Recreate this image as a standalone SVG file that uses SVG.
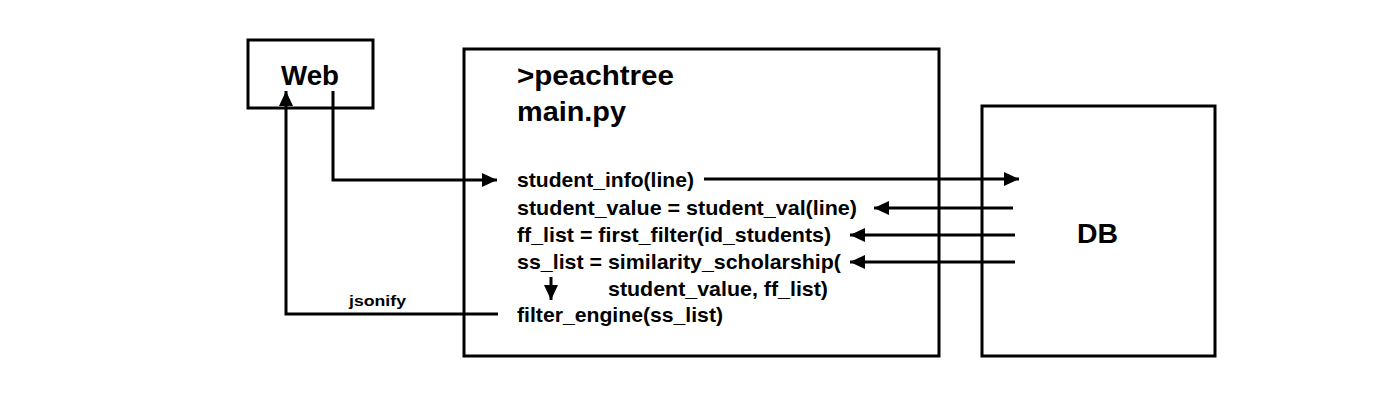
<svg xmlns="http://www.w3.org/2000/svg" width="1400" height="420" viewBox="0 0 1400 420">
<style>
.box{fill:#fff;stroke:#000;stroke-width:3}
.t{font-family:"Liberation Sans",Arial,sans-serif;font-weight:bold;fill:#000}
.code{font-size:21px}
.big{font-size:27px}
.c{fill:none;stroke:#000;stroke-width:3}
</style>
<defs>
<marker id="ah" markerWidth="15" markerHeight="14" refX="15" refY="7" orient="auto" markerUnits="userSpaceOnUse">
<path d="M0,0 L15,7 L0,14 Z" fill="#000"/>
</marker>
</defs>
<rect width="1400" height="420" fill="#fff"/>
<g id="main">
<rect class="box" x="464" y="49" width="475" height="307"/>
<text class="t big" x="517" y="85" textLength="157" lengthAdjust="spacingAndGlyphs">&gt;peachtree</text>
<text class="t big" x="517" y="121" textLength="109" lengthAdjust="spacingAndGlyphs">main.py</text>
<text class="t code" x="517" y="187" textLength="177" lengthAdjust="spacingAndGlyphs">student_info(line)</text>
<text class="t code" x="517" y="215" textLength="340" lengthAdjust="spacingAndGlyphs">student_value = student_val(line)</text>
<text class="t code" x="517" y="242" textLength="314" lengthAdjust="spacingAndGlyphs">ff_list = first_filter(id_students)</text>
<text class="t code" x="517" y="269" textLength="324" lengthAdjust="spacingAndGlyphs">ss_list = similarity_scholarship(</text>
<text class="t code" x="608" y="296" textLength="220" lengthAdjust="spacingAndGlyphs">student_value, ff_list)</text>
<text class="t code" x="517" y="322" textLength="206" lengthAdjust="spacingAndGlyphs">filter_engine(ss_list)</text>
</g>
<g id="web">
<rect class="box" x="248" y="40" width="125" height="68"/>
<text class="t" x="310" y="85" font-size="27" text-anchor="middle" textLength="58" lengthAdjust="spacingAndGlyphs">Web</text>
</g>
<g id="db">
<rect class="box" x="982" y="106" width="233" height="250"/>
<text class="t" x="1077" y="243" font-size="27" textLength="41" lengthAdjust="spacingAndGlyphs">DB</text>
</g>
<g id="connectors">
<path class="c" d="M333,91 V180 H497" marker-end="url(#ah)"/>
<path class="c" d="M704,179 H1019" marker-end="url(#ah)"/>
<path class="c" d="M1013,208 H874" marker-end="url(#ah)"/>
<path class="c" d="M1015,235 H850" marker-end="url(#ah)"/>
<path class="c" d="M1015,262 H850" marker-end="url(#ah)"/>
<path class="c" d="M551,277 V300" marker-end="url(#ah)"/>
<path class="c" d="M498,314 H286 V91" marker-end="url(#ah)"/>
<text class="t" x="349" y="306" font-size="15" textLength="57" lengthAdjust="spacingAndGlyphs">jsonify</text>
</g>
</svg>
